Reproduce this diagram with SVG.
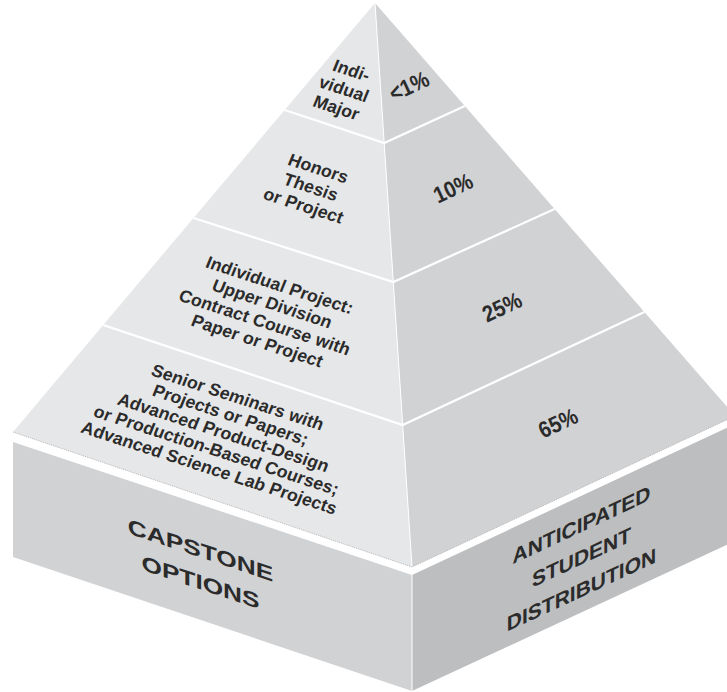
<svg xmlns="http://www.w3.org/2000/svg" width="727" height="692" viewBox="0 0 727 692">
<style>
.lf{fill:#e6e7e8}
.rf{fill:#d1d2d4}
.sl{fill:#d1d2d4}
.sr{fill:#bcbec0}
.div{stroke:#ffffff;stroke-width:2.2;fill:none}
.ctr{stroke:#ffffff;stroke-width:1;fill:none}
.dot{stroke:#b5b5b5;stroke-width:1;stroke-dasharray:1 1;fill:none}
text{font-family:"Liberation Sans",Arial,Helvetica,sans-serif;font-weight:bold;fill:#2b2b2b;text-anchor:middle}
.lab{font-size:17.5px;letter-spacing:0.1px}
.pct{font-size:23px}
.base{font-size:21px}
</style>
<rect width="727" height="692" fill="#ffffff"/>
<g id="base-slab">
<polygon class="sl" points="13,442 412,575 412,691 13,557"/>
<polygon class="sr" points="412,575 735,424 735,541 412,691"/>
<g transform="translate(200.5,566) matrix(1.25,0.417,0,1,0,0)">
<text class="base" x="0" y="-8.5">CAPSTONE</text>
<text class="base" x="0" y="23.5">OPTIONS</text>
</g>
<g transform="translate(581.5,557) matrix(1,-0.467,0,1,0,0)">
<text class="base" x="0" y="-25">ANTICIPATED</text>
<text class="base" x="0" y="7.5">STUDENT</text>
<text class="base" x="0" y="40">DISTRIBUTION</text>
</g>
</g>
<g id="level-1-individual-major">
<polygon class="lf" points="375,3 384.2,143 284.7,110"/>
<polygon class="rf" points="375,3 464.8,106 384.2,143"/>
<g transform="translate(344,89) rotate(18) skewX(-4)">
<text class="lab" x="0" y="-14">Indi-</text>
<text class="lab" x="0" y="6">vidual</text>
<text class="lab" x="0" y="26">Major</text>
</g>
<text class="pct" transform="translate(409,86) rotate(-25) scale(0.88,1)" x="0" y="8">&lt;1%</text>
</g>
<g id="level-2-honors">
<polygon class="lf" points="284.7,110 384.2,143 393.3,282 193.5,218"/>
<polygon class="rf" points="384.2,143 464.8,106 554.6,209 393.3,282"/>
<g transform="translate(311,187) rotate(18) skewX(-4)">
<text class="lab" x="0" y="-14">Honors</text>
<text class="lab" x="0" y="6">Thesis</text>
<text class="lab" x="0" y="26">or Project</text>
</g>
<text class="pct" transform="translate(453,188) rotate(-25) scale(0.88,1)" x="0" y="8">10%</text>
</g>
<g id="level-3-individual-project">
<polygon class="lf" points="193.5,218 393.3,282 402.7,425 103.2,325"/>
<polygon class="rf" points="393.3,282 554.6,209 644.4,312 402.7,425"/>
<g transform="translate(268.5,313) rotate(18) skewX(-4)">
<text class="lab" x="0" y="-24">Individual Project:</text>
<text class="lab" x="0" y="-4">Upper Division</text>
<text class="lab" x="0" y="16">Contract Course with</text>
<text class="lab" x="0" y="36">Paper or Project</text>
</g>
<text class="pct" transform="translate(502,307) rotate(-25) scale(0.88,1)" x="0" y="8">25%</text>
</g>
<g id="level-4-senior-seminars">
<polygon class="lf" points="103.2,325 402.7,425 412,567 13,432"/>
<polygon class="rf" points="402.7,425 644.4,312 735,416 412,567"/>
<g transform="translate(223.5,432.5) rotate(18) skewX(-4)">
<text class="lab" x="0" y="-32">Senior Seminars with</text>
<text class="lab" x="0" y="-13">Projects or Papers;</text>
<text class="lab" x="0" y="6">Advanced Product-Design</text>
<text class="lab" x="0" y="25">or Production-Based Courses;</text>
<text class="lab" x="0" y="44">Advanced Science Lab Projects</text>
</g>
<text class="pct" transform="translate(558,423) rotate(-25) scale(0.88,1)" x="0" y="8">65%</text>
</g>
<g id="edges">
<path class="div" d="M284.7,110 L384.2,143 L464.8,106"/>
<path class="div" d="M193.5,218 L393.3,282 L554.6,209"/>
<path class="div" d="M103.2,325 L402.7,425 L644.4,312"/>
<path class="ctr" d="M375,3 L412,567"/>
<path class="ctr" d="M412,575 L412,691"/>
<path class="dot" d="M13,432 L412,567 L735,416"/>
</g>
</svg>
